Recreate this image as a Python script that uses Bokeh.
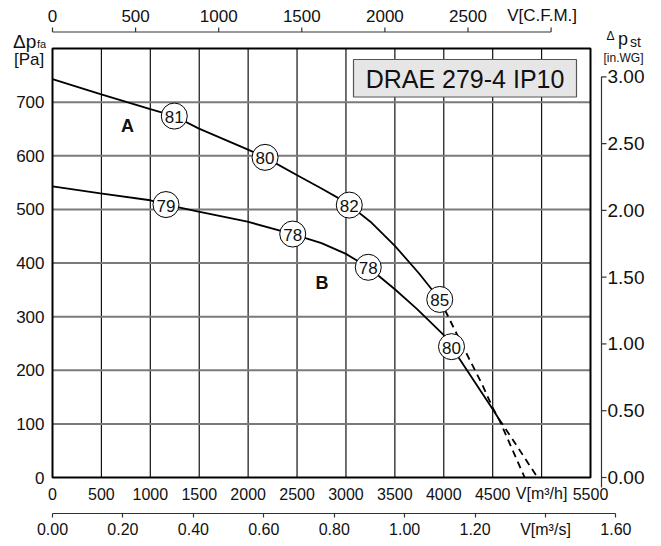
from bokeh.plotting import figure
from bokeh.models import Range1d, FixedTicker, NumeralTickFormatter, ColumnDataSource
from bokeh.layouts import column
from bokeh.embed import file_html
from bokeh.resources import INLINE
from bokeh.core.properties import value

# ---------------- data ----------------
flow_ticks = [0, 500, 1000, 1500, 2000, 2500, 3000, 3500, 4000, 4500, 5000, 5500]
flow_tick_labels = ["0", "500", "1000", "1500", "2000", "2500", "3000", "3500", "4000", "4500",
                    "V[m³/h]", "5500"]
pa_ticks = [0, 100, 200, 300, 400, 500, 600, 700]
pa_grid = [100, 200, 300, 400, 500, 600, 700]
cfm_ticks = [0, 500, 1000, 1500, 2000, 2500, 3000]
cfm_tick_labels = ["0", "500", "1000", "1500", "2000", "2500", "V[C.F.M.]"]
inwg_ticks = [0, 0.5, 1.0, 1.5, 2.0, 2.5, 3.0]
m3s_ticks = [0, 0.2, 0.4, 0.6, 0.8, 1.0, 1.2, 1.4, 1.6]
m3s_tick_labels = {1.4: "V[m³/s]"}

# curve A (solid part, then dashed continuation)
a_flow = [0, 490, 1000, 1245, 1492, 1993, 2173, 2497, 2750, 3000, 3250, 3500, 3750, 3959]
a_pa = [743, 715, 687, 674, 651, 612, 597, 564, 539, 513, 477, 432, 380, 332]
a_dash_flow = [3959, 4194, 4394, 4500, 4571, 4827]
a_dash_pa = [332, 245, 173, 130, 106, 0]

# curve B (solid part, then dashed continuation)
b_flow = [0, 490, 1000, 1160, 1493, 1993, 2456, 2750, 3000, 3228, 3500, 3722, 3993, 4079, 4497, 4564]
b_pa = [543, 530, 517, 509, 496, 477, 454, 437, 417, 392, 351, 315, 267, 244, 128, 109]
b_dash_flow = [4564, 4700, 4959]
b_dash_pa = [109, 72, 0]

# sound level markers on the curves
mark_flow = [1245, 2173, 3034, 3959, 1160, 2456, 3228, 4079]
mark_pa = [674, 597, 508, 332, 509, 454, 392, 244]
mark_text = ["81", "80", "82", "85", "79", "78", "78", "80"]

curve_names = ["A", "B"]
curve_name_flow = [767, 2755]
curve_name_pa = [656, 363]

title_text = "DRAE 279-4 IP10"

M3H_TO_CFM = 0.588578
PA_PER_INWG = 249.089
M3H_PER_M3S = 3600.0
X_MAX = 5500
Y_MAX = 800

# ---------------- layout constants (pixels) ----------------
FONT = "Liberation Sans"
INK = "#111111"
AXC = "#333333"
W = 656                 # canvas width
H1 = 503                # main canvas height
PX_L, PX_R = 52, 590    # plot area left / right
PY_T, PY_B = 48, 477    # plot area top / bottom
S_X = (PX_R - PX_L) / X_MAX   # px per m3/h
S_Y = (PY_B - PY_T) / Y_MAX   # px per Pa


def X(px):
    return (px - PX_L) / S_X


def Y(py):
    return (PY_B - py) / S_Y


# ---------------- main figure ----------------
p = figure(frame_width=W, frame_height=H1,
           x_range=Range1d(X(0), X(W)), y_range=Range1d(Y(H1), Y(0)),
           x_axis_location=None, y_axis_location=None, toolbar_location=None, output_backend="svg",
           min_border_left=0, min_border_right=0, min_border_top=0, min_border_bottom=0)
p.grid.visible = False
p.outline_line_color = None
p.background_fill_color = "white"
p.border_fill_color = "white"

# grid
inner_flow = flow_ticks[1:-1]
p.segment(x0=inner_flow, y0=[0] * len(inner_flow), x1=inner_flow, y1=[Y_MAX] * len(inner_flow),
          line_color="#111111", line_width=1.2)
p.segment(x0=[0] * len(pa_grid), y0=pa_grid, x1=[X_MAX] * len(pa_grid), y1=pa_grid,
          line_color="#7a7a7a", line_width=2)
# plot border
p.quad(left=[0], right=[X_MAX], bottom=[0], top=[Y_MAX], fill_color=None,
       line_color="black", line_width=2)

# bottom axis m3/h labels
p.text(x=flow_ticks, y=[Y(493)] * len(flow_ticks), text=flow_tick_labels,
       text_font=value(FONT), text_font_size="16px", text_align="center",
       text_baseline="middle", text_color=INK)

# left axis Pa labels
p.text(x=[X(PX_L - 8)] * len(pa_ticks), y=pa_ticks, text=[str(v) for v in pa_ticks],
       text_font=value(FONT), text_font_size="17px", text_align="right",
       text_baseline="middle", text_color=INK)

# top axis CFM
cfm_x = [c / M3H_TO_CFM for c in cfm_ticks]
y_cfm = Y(31.5)
p.line([cfm_x[0], cfm_x[-1]], [y_cfm, y_cfm], line_color=AXC, line_width=1.2)
p.segment(x0=cfm_x, y0=[y_cfm] * len(cfm_x), x1=cfm_x, y1=[Y(27)] * len(cfm_x),
          line_color=AXC, line_width=1.2)
cfm_src = ColumnDataSource(dict(x=cfm_x, y=[Y(15)] * len(cfm_x), t=cfm_tick_labels,
                                dx=[0] * (len(cfm_x) - 1) + [-9]))
p.text("x", "y", text="t", x_offset="dx", source=cfm_src, text_font=value(FONT),
       text_font_size="17px", text_align="center", text_baseline="middle", text_color=INK)

# right axis in.WG
wg_y = [v * PA_PER_INWG for v in inwg_ticks]
x_wg = X(601)
p.line([x_wg, x_wg], [Y(487), wg_y[-1]], line_color=AXC, line_width=1.2)
p.segment(x0=[x_wg] * len(wg_y), y0=wg_y, x1=[X(606)] * len(wg_y), y1=wg_y,
          line_color=AXC, line_width=1.2)
p.text(x=[X(607)] * len(wg_y), y=wg_y, text=[f"{v:.2f}" for v in inwg_ticks],
       text_font=value(FONT), text_font_size="19px", text_align="left",
       text_baseline="middle", text_color=INK)


# axis titles
def title(px, py, text, size):
    p.text(x=[X(px)], y=[Y(py)], text=[text], text_font=value(FONT), text_font_size=size,
           text_align="left", text_baseline="alphabetic", text_color=INK)


title(12.5, 40.5, "Δp", "19px")
title(36.5, 43.5, "fa", "11px")
title(13.5, 59, "[Pa]", "17px")
title(606, 35, "Δ", "12px")
title(617.5, 38, "p", "18px")
title(629.5, 41, "st", "14px")
title(603, 57.5, "[in.WG]", "12px")

# title box
p.quad(left=[X(353)], right=[X(576)], bottom=[Y(96.5)], top=[Y(59)], fill_color="#e6e6e6",
       line_color="#555555", line_width=1.2)
p.text(x=[X(464.5)], y=[Y(78)], text=[title_text], text_font=value(FONT), text_font_size="25px",
       text_align="center", text_baseline="middle", text_color=INK)

# curves
LW = 1.8
p.line(a_flow, a_pa, line_color="black", line_width=LW)
p.line(a_dash_flow, a_dash_pa, line_color="black", line_width=LW, line_dash="7 5")
p.line(b_flow, b_pa, line_color="black", line_width=LW)
p.line(b_dash_flow, b_dash_pa, line_color="black", line_width=LW, line_dash="7 5")

# markers
src = ColumnDataSource(dict(x=mark_flow, y=mark_pa, t=mark_text))
p.scatter("x", "y", source=src, marker="circle", size=26, fill_color="white",
          line_color="black", line_width=1)
p.text("x", "y", text="t", source=src, text_font=value(FONT), text_font_size="17px",
       text_align="center", text_baseline="middle", text_color=INK, y_offset=1)

# curve names
p.text(x=curve_name_flow, y=curve_name_pa, text=curve_names, text_font=value(FONT),
       text_font_size="18px", text_font_style="bold", text_align="center",
       text_baseline="middle", text_color=INK)

# ---------------- second (m3/s) axis figure ----------------
p2 = figure(frame_width=W, frame_height=1,
            x_range=Range1d(X(0) / M3H_PER_M3S, X(W) / M3H_PER_M3S), y_range=Range1d(0, 1),
            y_axis_location=None, toolbar_location=None, output_backend="svg",
            min_border_left=0, min_border_right=0, min_border_top=9, min_border_bottom=0)
p2.outline_line_color = None
p2.grid.visible = False
p2.background_fill_color = "white"
p2.border_fill_color = "white"
ax2 = p2.xaxis[0]
ax2.ticker = FixedTicker(ticks=m3s_ticks)
ax2.bounds = (0, 1.6)
ax2.formatter = NumeralTickFormatter(format="0.00")
ax2.major_label_overrides = m3s_tick_labels
ax2.axis_line_color = AXC
ax2.axis_line_width = 1.2
ax2.major_tick_line_color = AXC
ax2.major_tick_line_width = 1.2
ax2.major_tick_out = 4
ax2.major_tick_in = 0
ax2.minor_tick_line_color = None
ax2.major_label_standoff = 3
ax2.major_label_text_font = FONT
ax2.major_label_text_font_size = "16px"
ax2.major_label_text_color = INK

layout = column(p, p2, spacing=0)
open("out.html", "w").write(file_html(layout, INLINE))
